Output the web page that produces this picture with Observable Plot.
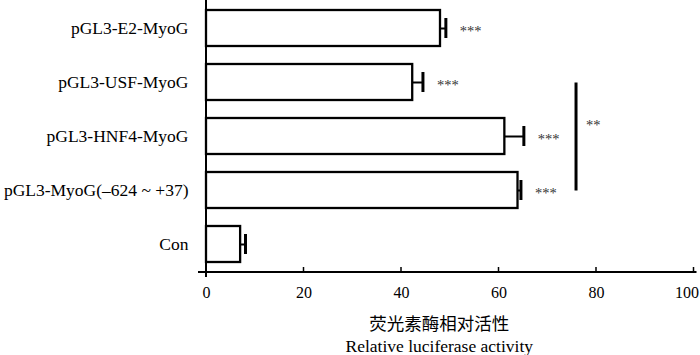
<!DOCTYPE html>
<html>
<head>
<meta charset="utf-8">
<script src="https://cdn.jsdelivr.net/npm/d3@7"></script>
<script src="https://cdn.jsdelivr.net/npm/@observablehq/plot@0.6"></script>
<style>
  html, body { margin: 0; padding: 0; background: #fff; }
  #chart svg { display: block; }
</style>
</head>
<body>
<div id="chart"></div>
<script>
// ---- data ----
const categories = ["pGL3-E2-MyoG", "pGL3-USF-MyoG", "pGL3-HNF4-MyoG", "pGL3-MyoG(–624 ~ +37)", "Con"];
const values = [48.0, 42.3, 61.2, 63.9, 7.0];
const errors = [1.1, 2.1, 3.9, 0.6, 1.0];
const stars = ["***", "***", "***", "***", ""];
const xTicks = [0, 20, 40, 60, 80, 100];
const bracketX = 75.8;
const bracketFrom = "pGL3-USF-MyoG";
const bracketTo = "pGL3-MyoG(–624 ~ +37)";
const bracketLabel = "**";
const bracketLabelAt = "pGL3-HNF4-MyoG";
const axisTitle = "荧光素酶相对活性\nRelative luciferase activity";

const rows = categories.map((c, i) => ({name: c, value: values[i], err: errors[i], hi: values[i] + errors[i], star: stars[i]}));

const font = "'Liberation Serif', 'Times New Roman', 'Noto Sans CJK SC', serif";

const axisLines = (index, scales, vals, dims) => {
  const g = d3.create("svg:g").attr("stroke", "black").attr("fill", "none");
  const y0 = dims.height - dims.marginBottom;
  const x0 = scales.x(0);
  g.append("line").attr("x1", x0 - 8).attr("x2", scales.x(100) + 3)
    .attr("y1", y0).attr("y2", y0).attr("stroke-width", 2);
  g.append("line").attr("x1", x0).attr("x2", x0)
    .attr("y1", dims.marginTop).attr("y2", y0 + 5).attr("stroke-width", 2);
  for (const t of xTicks.slice(1)) {
    g.append("line").attr("x1", scales.x(t)).attr("x2", scales.x(t))
      .attr("y1", y0 - 5).attr("y2", y0).attr("stroke-width", 1.5);
  }
  return g.node();
};

const chart = Plot.plot({
  width: 700,
  height: 355,
  marginLeft: 206,
  marginRight: 6.5,
  marginTop: 0,
  marginBottom: 83,
  style: {fontFamily: font, fontSize: "16px", background: "#fff", color: "#000"},
  x: {domain: [0, 100], label: null},
  y: {domain: categories, paddingInner: 0.333, paddingOuter: 0.185, label: null},
  marks: [
    Plot.barX(rows, {x: "value", y: "name", fill: "white", stroke: "black", strokeWidth: 2.3}),
    Plot.link(rows, {x1: "value", x2: "hi", y1: "name", y2: "name", stroke: "black", strokeWidth: 2}),
    Plot.tickX(rows, {x: "hi", y: "name", stroke: "black", strokeWidth: 3, insetTop: 8, insetBottom: 8}),
    Plot.text(rows, {x: "hi", y: "name", text: "star", textAnchor: "start", dx: 14, dy: 3, fontSize: 14.5, fill: "#333"}),
    Plot.link([{}], {x1: () => bracketX, x2: () => bracketX, y1: () => bracketFrom, y2: () => bracketTo, stroke: "black", strokeWidth: 3}),
    Plot.text([{}], {x: () => bracketX, y: () => bracketLabelAt, text: () => bracketLabel, textAnchor: "start", dx: 10, dy: -11, fontSize: 14.5, fill: "#333"}),
    axisLines,
    Plot.axisY({tickSize: 0, tickPadding: 18, fontSize: 17.5, label: null}),
    Plot.axisX(xTicks.slice(0, -1), {tickSize: 0, tickPadding: 14, fontSize: 16, label: null}),
    Plot.axisX(xTicks.slice(-1), {tickSize: 0, tickPadding: 14, fontSize: 16, label: null, textAnchor: "end", dx: 5}),
    Plot.text([axisTitle], {frameAnchor: "bottom", text: d => d, dx: -11, dy: 61, fontSize: 17.5, lineHeight: 1.26, lineAnchor: "middle"})
  ]
});

document.getElementById("chart").appendChild(chart);
</script>
</body>
</html>
